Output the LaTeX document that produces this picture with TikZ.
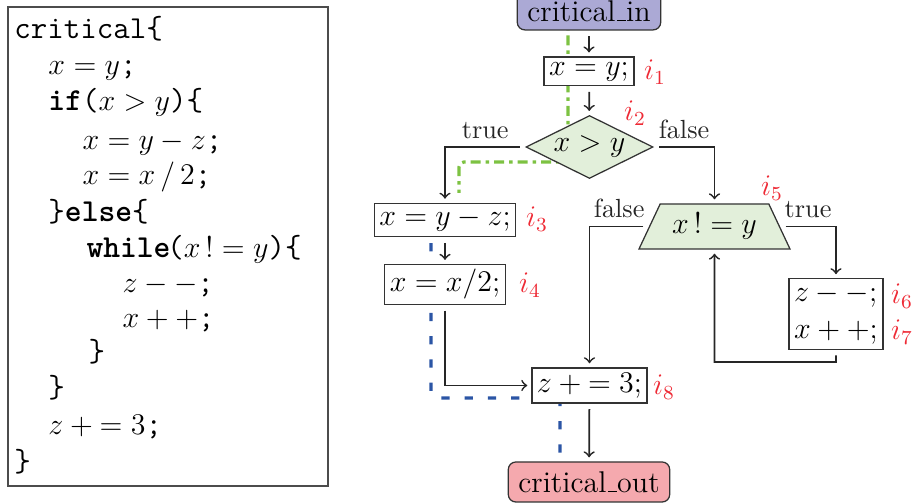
\documentclass[tikz,border=0pt]{standalone}
\usepackage{fontspec}
\usetikzlibrary{shapes.geometric,backgrounds}
\definecolor{cinfill}{HTML}{ABA9D5}
\definecolor{coutfill}{HTML}{F5A9AE}
\definecolor{condfill}{HTML}{E2EFDA}
\definecolor{lblred}{HTML}{EE2A35}
\definecolor{pgreen}{HTML}{7DC242}
\definecolor{pblue}{HTML}{2B55A5}
\newcommand\usc{\leavevmode\kern.06em\rule{.3em}{0.5pt}}
\newcommand\cm[1]{{\fontsize{11.8}{14}\selectfont$#1$}}
\tikzset{
  codeline/.style={anchor=base west, inner sep=0pt, font=\fontsize{12.8}{15}\selectfont},
  nodefont/.style={font=\fontsize{12}{14.8}\selectfont},
  box/.style={nodefont, draw=black!80, line width=0.5pt, fill=white, inner xsep=2pt, inner ysep=2pt},
  term/.style={nodefont, draw=black!80, line width=0.5pt, rounded corners=3pt, inner xsep=4pt, minimum height=16pt},
  dia/.style={nodefont, diamond, aspect=2, draw=black!80, line width=0.5pt, fill=condfill, minimum width=50.8pt, minimum height=25.2pt, inner sep=0pt},
  trap/.style={nodefont, trapezium, trapezium left angle=60, trapezium right angle=60, trapezium stretches body=true, draw=black!80, line width=0.5pt, fill=condfill, minimum width=60.4pt, minimum height=18pt, inner sep=2pt},
  ilbl/.style={nodefont, text=lblred, inner sep=0pt},
  elbl/.style={font=\fontsize{10.5}{12}\selectfont, inner sep=3pt},
  arr/.style={->, line width=0.7pt, black!85, shorten <=2.2pt, shorten >=1.6pt},
  gpath/.style={pgreen, line width=1.3pt, dash pattern=on 4pt off 2pt on 1.4pt off 2pt, rounded corners=2pt},
  bpath/.style={pblue, line width=1.3pt, dash pattern=on 3.3pt off 6pt, rounded corners=2pt}
}
\begin{document}
\begin{tikzpicture}[x=0.4pt,y=-0.4pt]
\useasboundingbox (0,0) rectangle (916,504);
% code listing
\draw[black!70, line width=0.5pt] (8,7) rectangle (328,486);
\node[codeline] (c0) at (14,39) {\texttt{critical\{}};
\node[codeline] (c1) at (48,75) {\cm{x = y}\texttt{;}};
\node[codeline] (c2) at (48,111) {\texttt{\textbf{if}(}\cm{x > y}\texttt{)\{}};
\node[codeline] (c3) at (82,150) {\cm{x = y - z}\texttt{;}};
\node[codeline] (c4) at (82,185) {\cm{x = x\,/\,2}\texttt{;}};
\node[codeline] (c5) at (48,222) {\texttt{\}\textbf{else}\{}};
\node[codeline] (c6) at (86,258) {\texttt{\textbf{while}\kern-.1em(}\cm{x\,!= y}\texttt{)\{}};
\node[codeline] (c7) at (122,293) {\cm{z - -}\texttt{;}};
\node[codeline] (c8) at (122,328) {\cm{x + +}\texttt{;}};
\node[codeline] (c9) at (88,362) {\texttt{\}}};
\node[codeline] (c10) at (48,398) {\texttt{\}}};
\node[codeline] (c11) at (48,435) {\cm{z \mathbin{+} {=}\; 3}\texttt{;}};
\node[codeline] (c12) at (14,472) {\texttt{\}}};
% flowchart nodes
\node[term, fill=cinfill, minimum height=15pt] (cin) at (589,11) {critical\usc in};
\node[box] (n1) at (589,71.5) {$x = y;$};
\node[dia] (n2) at (589.5,147) {$x > y$};
\node[box] (n3) at (445,220) {$x = y - z;$};
\node[box] (n4) at (445,284.5) {$x = x/2;$};
\node[trap] (n5) at (714.5,226.5) {$x\,!= y$};
\node[box, align=left] (n6) at (836,314) {$z - -;$\\$x + +;$};
\node[box] (n8) at (589.5,385.5) {$z \mathbin{+} {=}\; 3;$};
\node[term, fill=coutfill] (cout) at (589,482) {critical\usc out};
% index labels
\node[ilbl] (l1) at (655,72) {$i_1$};
\node[ilbl] (l2) at (635,113) {$i_2$};
\node[ilbl] (l3) at (537,219) {$i_3$};
\node[ilbl] (l4) at (530,285) {$i_4$};
\node[ilbl] (l5) at (772,188) {$i_5$};
\node[ilbl] (l6) at (902,296) {$i_6$};
\node[ilbl] (l7) at (902,332) {$i_7$};
\node[ilbl] (l8) at (664,387) {$i_8$};
% connectors
\coordinate (loop) at (714.5,362);
\draw[arr] (cin) -- (n1);
\draw[arr] (n1) -- (n2);
\draw[arr] (n2.west) -| (n3.north) node[elbl, pos=0.25, above] {true};
\draw[arr] (n2.east) -| (n5.north) node[elbl, pos=0.25, above] {false};
\draw[arr] (n3) -- (n4);
\draw[arr] (n4.south) |- (n8.west);
\draw[arr] (n5.west) -| (n8.north) node[elbl, pos=0.25, above] {false};
\draw[arr] (n5.east) -| (n6.north) node[elbl, pos=0.25, above] {true};
\draw[arr] (n6.south) |- (loop) -- (n5.south);
\draw[arr] (n8) -- (cout);
% highlighted paths behind the nodes
\begin{scope}[on background layer]
\coordinate (g1) at (568,12);
\coordinate (g2) at (568,162);
\coordinate (g3) at (459,162);
\coordinate (g4) at (459,193);
\draw[gpath] (g1) -- (g2) -- (g3) -- (g4);
\coordinate (b1) at (431,220);
\coordinate (b2) at (431,398);
\coordinate (b3) at (560,398);
\coordinate (b4) at (560,482);
\draw[bpath] (b1) -- (b2) -- (b3) -- (b4);
\end{scope}
\end{tikzpicture}
\end{document}
